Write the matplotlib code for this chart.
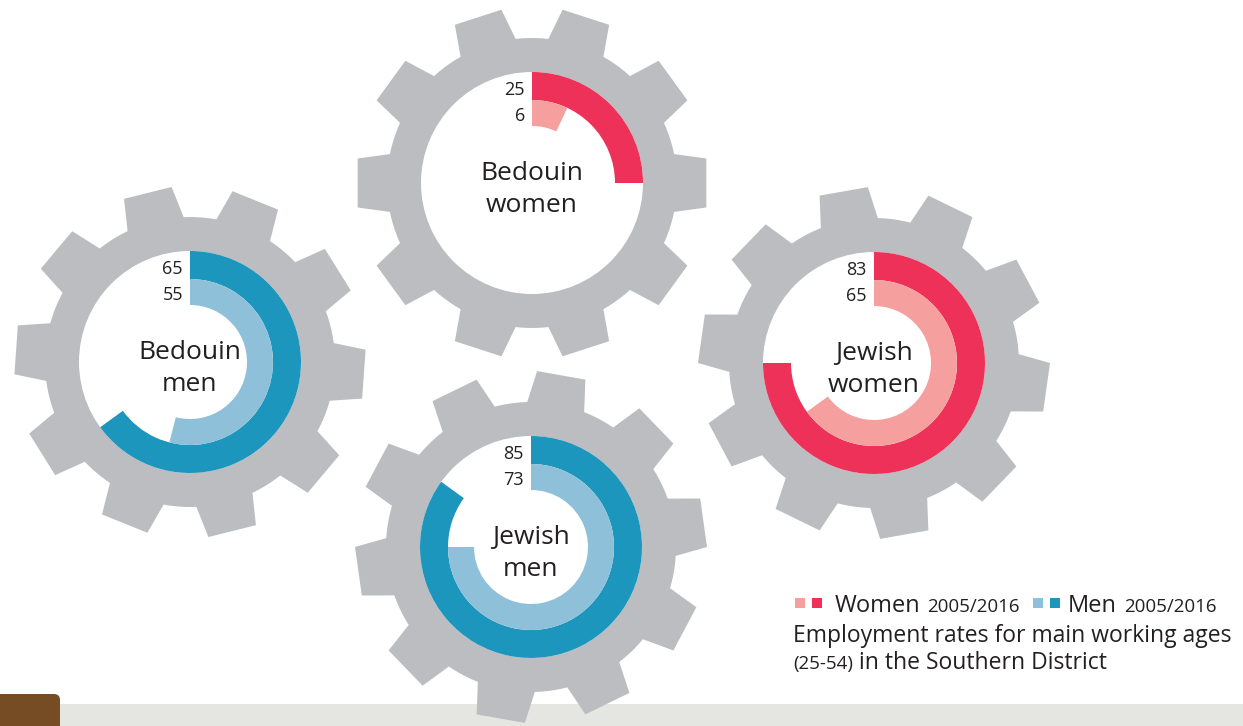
"""
Employment rates gears — Southern District (Bedouin / Jewish, 2005 vs 2016)
"""
import numpy as np
import matplotlib
matplotlib.use("Agg")
import matplotlib.pyplot as plt
from matplotlib.patches import Polygon, Wedge, Circle, Rectangle, FancyBboxPatch

W, H = 1243, 726

# data ---------------------------------------------------------------
groups = ["Bedouin\nwomen", "Bedouin\nmen", "Jewish\nwomen", "Jewish\nmen"]
sex = ["women", "men", "women", "men"]
rate_2005 = [6, 55, 65, 73]          # printed values
rate_2016 = [25, 65, 83, 85]
arc_2005 = [7, 54, 65, 75]           # arc length as drawn in the original (%)
arc_2016 = [25, 65, 75, 85]

# layout (pixel coords, y down) and gear rotation (deg)
centers = [(532, 183), (190, 362), (874, 363), (531, 547)]
rotation = [0, -4, -8, 8]

COL = {"women": ("#f5a09f", "#ee3158"), "men": ("#8fc0da", "#1d96bd")}
GEAR = "#bcbdc0"
TXT = "#231f20"
FONT = ["Open Sans", "DejaVu Sans"]

R_TIP, R_ROOT, R_HOLE = 176, 145, 111
R_MID, R_IN = 83, 57
N_TEETH = 10


def gear_polygon(cx, cy, rot):
    pitch = 360 / N_TEETH
    tip_h, root_h = 8.0, 11.5
    pts = []
    for k in range(N_TEETH):
        c = rot + k * pitch
        for a, r in [(c - root_h, R_ROOT), (c - tip_h, R_TIP), (c + tip_h, R_TIP), (c + root_h, R_ROOT)]:
            pts.append((a, r))
        arc = np.linspace(c + root_h, c + pitch - root_h, 6)[1:-1]
        pts += [(a, R_ROOT) for a in arc]
    a = np.radians([p[0] for p in pts])
    r = np.array([p[1] for p in pts])
    return np.column_stack([cx + r * np.cos(a), cy + r * np.sin(a)])


fig = plt.figure(figsize=(W / 100, H / 100), dpi=100)
ax = fig.add_axes([0, 0, 1, 1])
ax.set_xlim(0, W)
ax.set_ylim(0, H)
ax.set_aspect("equal")
ax.axis("off")

# bottom bar
ax.add_patch(Rectangle((60, 0), W - 60, 22, color="#e5e5e1", lw=0, zorder=1))
ax.add_patch(FancyBboxPatch((-20, -20), 80, 52, boxstyle="round,pad=0,rounding_size=6",
                            color="#754c24", lw=0, zorder=1))

for i, g in enumerate(groups):
    cx, cy = centers[i][0], H - centers[i][1]
    light, dark = COL[sex[i]]
    ax.add_patch(Polygon(gear_polygon(cx, cy, rotation[i]), closed=True,
                         color=GEAR, lw=0, zorder=2))
    ax.add_patch(Circle((cx, cy), R_HOLE, color="white", lw=0, zorder=3))
    # clockwise from 12 o'clock
    ax.add_patch(Wedge((cx, cy), R_HOLE, 90 - 3.6 * arc_2016[i], 90,
                       width=R_HOLE - R_MID, color=dark, lw=0, zorder=4))
    ax.add_patch(Wedge((cx, cy), R_MID, 90 - 3.6 * arc_2005[i], 90,
                       width=R_MID - R_IN, color=light, lw=0, zorder=4))
    ax.text(cx - 7, cy + 93, str(rate_2016[i]), ha="right", va="center",
            fontsize=13, color=TXT, family=FONT, zorder=5)
    ax.text(cx - 7, cy + 67, str(rate_2005[i]), ha="right", va="center",
            fontsize=13, color=TXT, family=FONT, zorder=5)
    l1, l2 = g.split("\n")
    ax.text(cx, cy + 3, l1, ha="center", va="baseline", fontsize=19,
            color=TXT, family=FONT, zorder=5)
    ax.text(cx, cy - 29, l2, ha="center", va="baseline", fontsize=19,
            color=TXT, family=FONT, zorder=5)

# legend --------------------------------------------------------------
fig.canvas.draw()
renderer = fig.canvas.get_renderer()


def put(x, y, s, size):
    t = ax.text(x, y, s, ha="left", va="baseline", fontsize=size, color=TXT,
                family=FONT, zorder=5)
    bb = t.get_window_extent(renderer).transformed(ax.transData.inverted())
    return bb.x1


sq = 10
ax.add_patch(Rectangle((795, H - 608), sq, sq, color=COL["women"][0], lw=0))
ax.add_patch(Rectangle((812, H - 608), sq, sq, color=COL["women"][1], lw=0))
x = put(835, H - 612, "Women", 17)
put(x + 7, H - 612, "2005/2016", 13.5)
ax.add_patch(Rectangle((1033, H - 608), sq, sq, color=COL["men"][0], lw=0))
ax.add_patch(Rectangle((1050, H - 608), sq, sq, color=COL["men"][1], lw=0))
x = put(1068, H - 612, "Men", 17)
put(x + 7, H - 612, "2005/2016", 13.5)

put(793, H - 642, "Employment rates for main working ages", 16.5)
x = put(793, H - 669, "(25-54)", 13.5)
put(x + 6, H - 669, "in the Southern District", 16.5)

fig.savefig("out.png", dpi=100)
